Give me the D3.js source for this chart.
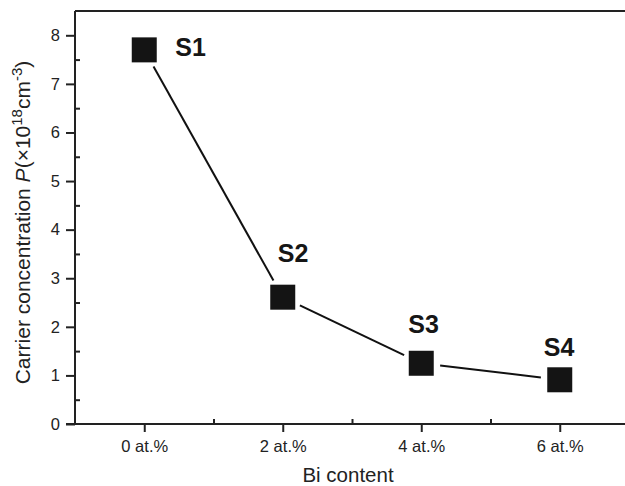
<!DOCTYPE html>
<html>
<head>
<meta charset="utf-8">
<script src="https://cdn.jsdelivr.net/npm/d3@7"></script>
<style>
  html, body { margin: 0; padding: 0; background: #fff; }
  svg { display: block; font-family: "Liberation Sans", Arial, Helvetica, sans-serif; }
</style>
</head>
<body>
<svg id="chart" width="625" height="486"></svg>
<script>
// ---- data ----
const biContent = [0, 2, 4, 6];
const tickLabels = ["0 at.%", "2 at.%", "4 at.%", "6 at.%"];
const sampleNames = ["S1", "S2", "S3", "S4"];
const carrierConc = [7.70, 2.61, 1.25, 0.91];
const yTicks = [0, 1, 2, 3, 4, 5, 6, 7, 8];
const yMinorTicks = [0.5, 1.5, 2.5, 3.5, 4.5, 5.5, 6.5, 7.5];
const xMinorTicks = [1, 3, 5];

// ---- layout ----
const plotL = 75, plotR = 629, plotT = 11, plotB = 424;
const labelOffsets = [[31, 6], [-5, -35], [-13, -30], [-16, -24]];
const textColor = "#222";
const axisColor = "#222";

const svg = d3.select("#chart");
const x = d3.scaleLinear().domain([-1, 7]).range([plotL, plotR]);
const y = d3.scaleLinear().domain([0, 8.5]).range([plotB, plotT]);

// top border
svg.append("line")
  .attr("x1", plotL).attr("x2", plotR)
  .attr("y1", y(8.5)).attr("y2", y(8.5))
  .attr("stroke", axisColor).attr("stroke-width", 2);

// y axis (major, outward)
const yAxis = svg.append("g").attr("transform", `translate(${plotL},0)`)
  .call(d3.axisLeft(y).tickValues(yTicks).tickSize(9).tickPadding(6).tickFormat(d3.format("d")));
yAxis.select(".domain").remove();
yAxis.selectAll(".tick line").attr("stroke", axisColor).attr("stroke-width", 2);
yAxis.selectAll(".tick text").attr("fill", textColor).style("font-size", "16.5px")
  .style("font-family", "Liberation Sans, Arial, sans-serif");
// y minor (inward)
const yMinor = svg.append("g").attr("transform", `translate(${plotL},0)`)
  .call(d3.axisRight(y).tickValues(yMinorTicks).tickSize(5).tickFormat(""));
yMinor.select(".domain").remove();
yMinor.selectAll(".tick line").attr("stroke", axisColor).attr("stroke-width", 2);

// x axis (major, outward)
const xAxis = svg.append("g").attr("transform", `translate(0,${plotB})`)
  .call(d3.axisBottom(x).tickValues(biContent).tickSize(8).tickPadding(8)
    .tickFormat((d, i) => tickLabels[i]));
xAxis.select(".domain").remove();
xAxis.selectAll(".tick line").attr("stroke", axisColor).attr("stroke-width", 2);
xAxis.selectAll(".tick text").attr("fill", textColor).style("font-size", "16.5px")
  .style("font-family", "Liberation Sans, Arial, sans-serif");
// x minor (inward)
const xMinor = svg.append("g").attr("transform", `translate(0,${plotB})`)
  .call(d3.axisTop(x).tickValues(xMinorTicks).tickSize(5).tickFormat(""));
xMinor.select(".domain").remove();
xMinor.selectAll(".tick line").attr("stroke", axisColor).attr("stroke-width", 2);

// axis lines
svg.append("line").attr("x1", plotL).attr("x2", plotL)
  .attr("y1", plotT).attr("y2", plotB + 1)
  .attr("stroke", axisColor).attr("stroke-width", 2);
svg.append("line").attr("x1", plotL - 9).attr("x2", plotR)
  .attr("y1", plotB).attr("y2", plotB)
  .attr("stroke", axisColor).attr("stroke-width", 2);

// connecting line segments with gaps around markers
const pts = biContent.map((v, i) => [x(v), y(carrierConc[i])]);
const gap = 19;
for (let i = 0; i < pts.length - 1; i++) {
  const [x1, y1] = pts[i], [x2, y2] = pts[i + 1];
  const dx = x2 - x1, dy = y2 - y1, len = Math.hypot(dx, dy);
  const ux = dx / len, uy = dy / len;
  svg.append("line")
    .attr("x1", x1 + ux * gap).attr("y1", y1 + uy * gap)
    .attr("x2", x2 - ux * gap).attr("y2", y2 - uy * gap)
    .attr("stroke", "#111").attr("stroke-width", 2);
}

// markers
const sz = 25;
svg.selectAll("rect.pt").data(carrierConc).join("rect")
  .attr("class", "pt")
  .attr("x", (d, i) => x(biContent[i]) - sz / 2)
  .attr("y", d => y(d) - sz / 2)
  .attr("width", sz).attr("height", sz)
  .attr("fill", "#141414");

// sample labels
svg.selectAll("text.lbl").data(sampleNames).join("text")
  .attr("class", "lbl")
  .attr("x", (d, i) => x(biContent[i]) + labelOffsets[i][0])
  .attr("y", (d, i) => y(carrierConc[i]) + labelOffsets[i][1])
  .attr("fill", "#161616")
  .style("font-size", "25px").style("font-weight", "bold")
  .text(d => d);

// x axis title
svg.append("text")
  .attr("x", 348).attr("y", 482)
  .attr("text-anchor", "middle").attr("fill", textColor)
  .style("font-size", "20.5px")
  .text("Bi content");

// y axis title
const yt = svg.append("text")
  .attr("transform", "translate(30,222.5) rotate(-90)")
  .attr("text-anchor", "middle").attr("fill", textColor)
  .style("font-size", "21px");
yt.append("tspan").text("Carrier concentration ");
yt.append("tspan").style("font-style", "italic").text("P");
yt.append("tspan").text("(\u00D710");
yt.append("tspan").attr("dy", -8).style("font-size", "15px").text("18");
yt.append("tspan").attr("dy", 8).text("cm");
yt.append("tspan").attr("dy", -8).style("font-size", "15px").text("-3");
yt.append("tspan").attr("dy", 8).text(")");
</script>
</body>
</html>
